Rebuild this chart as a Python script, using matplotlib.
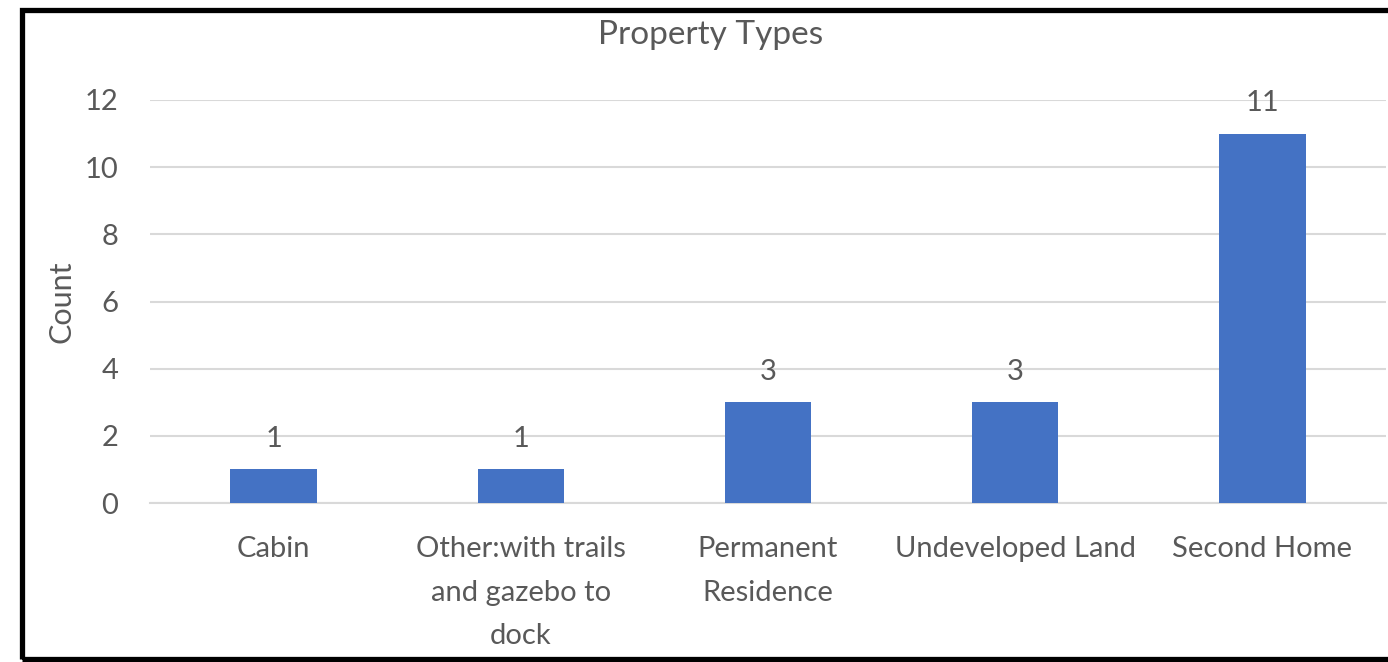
import matplotlib.pyplot as plt
from matplotlib.patches import Rectangle

categories = ["Cabin", "Other:with trails\nand gazebo to\ndock", "Permanent\nResidence",
              "Undeveloped Land", "Second Home"]
counts = [1, 1, 3, 3, 11]
y_ticks = [0, 2, 4, 6, 8, 10, 12]

W, H = 1388, 662
plt.rcParams["font.family"] = ["Lato", "DejaVu Sans"]
text_color = "#595959"

fig = plt.figure(figsize=(W / 100, H / 100), dpi=100)
ax = fig.add_axes([150 / W, 1 - 503 / H, (1386 - 150) / W, 403 / H])

x = range(len(categories))
bars = ax.bar(x, counts, width=0.35, color="#4472C4", zorder=3)
for b, v in zip(bars, counts):
    ax.annotate(str(v), (b.get_x() + b.get_width() / 2, v), xytext=(0, 22),
                textcoords="offset points", ha="center", va="center",
                fontsize=21, color=text_color)

ax.set_xlim(-0.5, len(categories) - 0.5)
ax.set_ylim(0, 12)
ax.set_yticks(y_ticks)
ax.set_xticks(list(x))
ax.set_xticklabels(categories, linespacing=1.82)
ax.tick_params(axis="both", length=0, labelsize=21, labelcolor=text_color)
ax.tick_params(axis="x", pad=24)
ax.tick_params(axis="y", pad=23)
ax.grid(axis="y", color="#d9d9d9", linewidth=1.5, zorder=0)
for s in ["top", "right", "left"]:
    ax.spines[s].set_visible(False)
ax.spines["bottom"].set_color("#d9d9d9")
ax.spines["bottom"].set_linewidth(1.5)

ax.set_ylabel("Count", fontsize=22, color=text_color)
ax.yaxis.set_label_coords(-(150 - 76) / (1386 - 150), 0.5)

fig.text(711 / W, 1 - 35 / H, "Property Types", ha="center", va="center",
         fontsize=24, color=text_color)

# black frame around the chart (right side cut off)
fig.patches.append(Rectangle((21.5 / W, 3 / H), 1.2, (659 - 13) / H + 0.004,
                             transform=fig.transFigure, fill=False,
                             edgecolor="black", linewidth=3.8))

fig.savefig("out.png", dpi=100)
